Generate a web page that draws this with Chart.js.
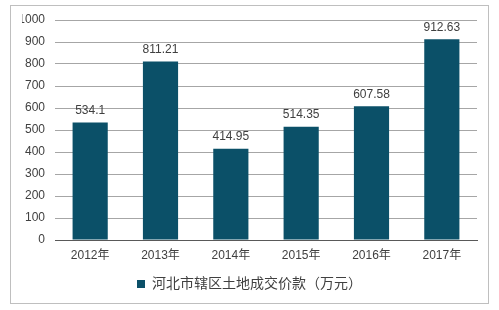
<!DOCTYPE html>
<html>
<head>
<meta charset="utf-8">
<script src="https://cdn.jsdelivr.net/npm/chart.js@4.4.0/dist/chart.umd.min.js"></script>
<style>
  html, body { margin: 0; padding: 0; background: #fff; }
  #wrap { position: relative; width: 499px; height: 310px; }
</style>
</head>
<body>
<div id="wrap"><canvas id="canvas" width="499" height="310"></canvas></div>
<script>
const years = ['2012年', '2013年', '2014年', '2015年', '2016年', '2017年'];
const values = [534.1, 811.21, 414.95, 514.35, 607.58, 912.63];
const labelText = ['534.1', '811.21', '414.95', '514.35', '607.58', '912.63'];
const seriesName = '河北市辖区土地成交价款（万元）';

const fontFamily = '"Liberation Sans", Arial, "Noto Sans CJK SC", sans-serif';

// outer frame + value labels above bars
const extras = {
    id: 'extras',
    beforeDraw(chart) {
        const ctx = chart.ctx;
        ctx.save();
        ctx.strokeStyle = '#bfbfbf';
        ctx.lineWidth = 1;
        ctx.strokeRect(10.5, 5.5, 478, 298);
        ctx.restore();
    },
    afterDatasetsDraw(chart) {
        const ctx = chart.ctx;
        const meta = chart.getDatasetMeta(0);
        ctx.save();
        ctx.font = '12px ' + fontFamily;
        ctx.fillStyle = '#404040';
        ctx.textAlign = 'center';
        ctx.textBaseline = 'bottom';
        meta.data.forEach((bar, i) => {
            ctx.fillText(labelText[i], bar.x, bar.y - 6);
        });
        ctx.restore();
    }
};

const ctx = document.getElementById('canvas').getContext('2d');
const chart = new Chart(ctx, {
    type: 'bar',
    data: {
        labels: years,
        datasets: [{
            label: seriesName,
            data: values,
            backgroundColor: '#0b5068',
            borderWidth: 0,
            categoryPercentage: 1.0,
            barPercentage: 0.5
        }]
    },
    options: {
        responsive: false,
        animation: false,
        layout: { padding: { left: 22, right: 22, top: 20, bottom: 9 } },
        plugins: {
            legend: {
                position: 'bottom',
                labels: {
                    boxWidth: 8,
                    boxHeight: 8,
                    padding: 10,
                    color: '#404040',
                    font: { size: 14, family: fontFamily }
                }
            },
            tooltip: { enabled: false }
        },
        scales: {
            x: {
                grid: { display: false, drawTicks: false },
                border: { color: '#595959' },
                ticks: { color: '#404040', font: { size: 12, family: fontFamily }, padding: 8 },
                afterFit(s) { s.height = 27; }
            },
            y: {
                min: 0,
                max: 1000,
                ticks: {
                    stepSize: 100,
                    color: '#404040',
                    font: { size: 12, family: fontFamily },
                    padding: 10,
                    callback: v => String(v)
                },
                grid: { color: '#a6a6a6', drawTicks: false },
                border: { display: false },
                afterFit(s) { s.width = 33; }
            }
        }
    },
    plugins: [extras]
});
</script>
</body>
</html>
